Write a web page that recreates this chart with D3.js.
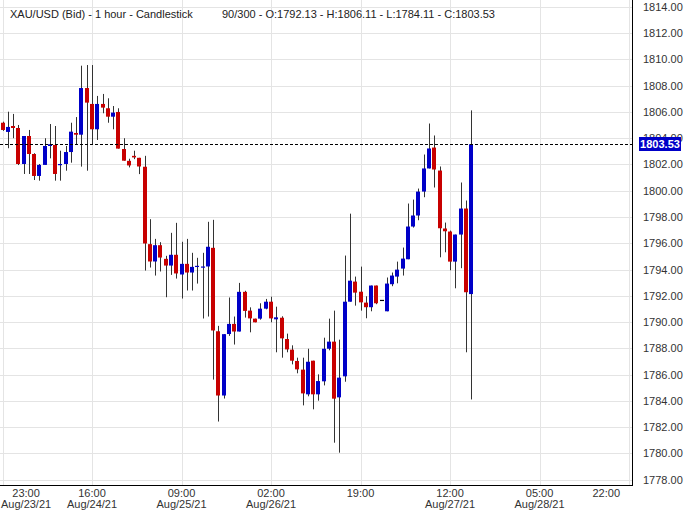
<!DOCTYPE html>
<html>
<head>
<meta charset="utf-8">
<script src="https://cdn.jsdelivr.net/npm/d3@7"></script>
<style>
  html, body { margin: 0; padding: 0; background: #ffffff; }
  svg { display: block; }
  text { font-family: "Liberation Sans", Arial, sans-serif; }
</style>
</head>
<body>
<svg id="chart" width="690" height="510"></svg>
<script>
// ---------- data ----------
const chartTitle = "XAU/USD (Bid) - 1 hour - Candlestick";
const chartInfo = "90/300 - O:1792.13 - H:1806.11 - L:1784.11 - C:1803.53";
const firstCandleTime = "2021-08-23T23:00:00Z"; // hourly candles
const lastPrice = 1803.53;

const opens = [
  1805.17,1804.47,1804.92,1804.77,1802.03,1804.16,1802.79,1801.12,1801.96,1803.40,
  1803.48,1801.96,1802.03,1802.94,1804.39,1804.26,1807.81,1806.60,1804.67,1806.60,
  1806.27,1805.63,1805.99,1803.17,1802.27,1802.65,1802.50,1801.82,1795.93,1794.61,
  1795.85,1794.81,1794.30,1795.12,1793.62,1794.43,1793.77,1794.23,1794.15,1794.23,
  1795.65,1789.30,1784.41,1789.09,1789.86,1789.28,1792.30,1790.87,1790.26,1790.26,
  1791.02,1791.55,1790.21,1790.33,1788.71,1787.90,1787.04,1786.38,1784.50,1787.06,
  1784.50,1785.49,1787.97,1788.51,1784.27,1785.87,1791.55,1793.08,1792.31,1791.48,
  1791.13,1792.78,1791.69,1790.82,1792.88,1793.46,1794.07,1794.78,1797.27,1798.11,
  1799.93,1801.69,1803.28,1801.53,1797.12,1796.89,1794.60,1796.66,1798.64,1792.13
];
const highs = [
  1805.25,1806.01,1805.84,1805.00,1804.16,1804.62,1802.85,1802.03,1803.99,1805.07,
  1804.92,1803.04,1803.40,1805.17,1805.60,1809.51,1809.56,1809.56,1807.21,1807.36,
  1807.03,1806.44,1806.27,1803.99,1802.43,1803.04,1802.50,1802.65,1797.83,1796.33,
  1796.08,1795.04,1796.79,1797.55,1796.11,1796.33,1795.27,1794.89,1795.27,1797.63,
  1797.78,1789.71,1789.08,1791.87,1790.42,1792.98,1792.38,1791.12,1790.26,1791.43,
  1791.76,1791.93,1791.17,1790.44,1789.12,1788.23,1787.29,1787.29,1787.97,1787.06,
  1786.02,1788.81,1790.26,1790.87,1788.66,1795.06,1798.25,1793.46,1794.22,1791.96,
  1792.78,1792.78,1791.69,1793.39,1793.77,1794.60,1795.67,1799.02,1799.32,1800.16,
  1802.75,1805.11,1804.20,1801.84,1797.57,1796.96,1796.66,1800.62,1799.25,1806.11
];
const lows = [
  1804.55,1803.23,1803.99,1801.95,1801.27,1801.27,1800.81,1800.76,1801.96,1802.46,
  1800.76,1800.76,1801.52,1802.13,1803.48,1801.83,1801.52,1803.48,1803.86,1805.89,
  1805.17,1804.67,1803.20,1802.28,1801.77,1802.40,1801.26,1793.92,1794.15,1793.54,
  1793.85,1791.89,1793.59,1793.31,1791.79,1792.40,1792.40,1792.93,1790.27,1790.42,
  1785.62,1782.43,1784.18,1788.95,1788.29,1789.28,1790.34,1789.22,1789.98,1790.18,
  1790.97,1789.98,1787.70,1787.29,1787.70,1786.78,1786.10,1783.66,1784.35,1783.36,
  1784.02,1785.18,1787.85,1780.82,1780.06,1785.46,1791.55,1791.25,1790.87,1790.29,
  1790.82,1791.36,1791.69,1790.82,1792.73,1792.95,1793.54,1794.78,1797.19,1797.75,
  1799.50,1801.69,1800.24,1794.93,1795.31,1793.94,1792.57,1794.10,1787.70,1784.11
];
const closes = [
  1804.62,1804.85,1804.77,1802.03,1804.16,1802.79,1801.12,1801.96,1803.40,1803.53,
  1801.27,1802.03,1802.94,1804.49,1804.26,1807.81,1806.70,1804.67,1806.60,1806.32,
  1805.63,1805.94,1803.20,1802.28,1801.92,1802.53,1801.84,1795.98,1794.61,1795.85,
  1794.91,1794.30,1795.12,1793.70,1794.43,1793.77,1794.20,1794.28,1794.23,1795.73,
  1789.36,1784.41,1789.08,1789.86,1789.28,1792.30,1790.85,1790.28,1789.98,1791.02,
  1791.55,1790.28,1790.36,1788.76,1787.92,1787.06,1786.40,1784.57,1786.98,1784.50,
  1785.51,1787.97,1788.51,1784.17,1785.77,1791.55,1793.15,1792.24,1791.50,1791.13,
  1792.78,1791.43,1791.69,1792.93,1793.54,1793.99,1794.83,1797.27,1798.11,1799.93,
  1801.69,1803.21,1801.61,1797.14,1796.91,1794.60,1796.66,1798.64,1792.27,1803.53
];

const yTickValues = [1778,1780,1782,1784,1786,1788,1790,1792,1794,1796,1798,1800,1802,1804,1806,1808,1810,1812,1814];
const xTickTimes = ["2021-08-23T23:00:00Z","2021-08-24T16:00:00Z","2021-08-25T09:00:00Z","2021-08-26T02:00:00Z",
                    "2021-08-26T19:00:00Z","2021-08-27T12:00:00Z","2021-08-28T05:00:00Z","2021-08-28T22:00:00Z"];
const xTickDates = ["Aug/23/21","Aug/24/21","Aug/25/21","Aug/26/21","","Aug/27/21","Aug/28/21",""];

// ---------- layout ----------
const W = 690, H = 510;
const plotRight = 632, plotBottom = 485;
const upColor = "#0000c8", downColor = "#c80000", wickColor = "#333333";
const gridColor = "#e4e4e4";

const svg = d3.select("#chart");
svg.append("rect").attr("width", W).attr("height", H).attr("fill", "#fff");

const t0 = new Date(firstCandleTime).getTime();
const candles = opens.map((o, i) => ({
  t: new Date(t0 + i * 3600e3), o, h: highs[i], l: lows[i], c: closes[i]
}));

const x = d3.scaleUtc()
  .domain([new Date(Date.UTC(2021,7,23,22,31,30)), new Date(Date.UTC(2021,7,28,22,33,40))])
  .range([0, plotRight]);
const y = d3.scaleLinear().domain([1777.60, 1814.51]).range([plotBottom, 0]);

// grid
const grid = svg.append("g");
grid.selectAll("line.h").data(yTickValues).join("line")
  .attr("x1", 0).attr("x2", plotRight)
  .attr("y1", d => Math.round(y(d)) + 0.5).attr("y2", d => Math.round(y(d)) + 0.5)
  .attr("stroke", gridColor).attr("stroke-width", 1);
const xTicks = xTickTimes.map(s => new Date(s));
grid.selectAll("line.v").data(xTicks).join("line")
  .attr("y1", 0).attr("y2", plotBottom)
  .attr("x1", d => Math.round(x(d)) + 0.5).attr("x2", d => Math.round(x(d)) + 0.5)
  .attr("stroke", gridColor).attr("stroke-width", 1);

// title
svg.append("text").attr("x", 10).attr("y", 18).attr("font-size", 11).attr("fill", "#222").text(chartTitle);
svg.append("text").attr("x", 222).attr("y", 18).attr("font-size", 11).attr("fill", "#222").text(chartInfo);

// candles
const cg = svg.append("g");
cg.selectAll("line.wick").data(candles).join("line")
  .attr("x1", d => Math.round(x(d.t)) + 0.5).attr("x2", d => Math.round(x(d.t)) + 0.5)
  .attr("y1", d => y(d.h)).attr("y2", d => y(d.l))
  .attr("stroke", wickColor).attr("stroke-width", 1);
cg.selectAll("rect.body").data(candles).join("rect")
  .attr("x", d => Math.round(x(d.t)) - 2)
  .attr("width", 4)
  .attr("y", d => y(Math.max(d.o, d.c)))
  .attr("height", d => Math.max(1.2, Math.abs(y(d.o) - y(d.c))))
  .attr("fill", d => d.c > d.o ? upColor : (d.c < d.o ? downColor : "#000"));

// last price dashed line
svg.append("line")
  .attr("x1", 0).attr("x2", plotRight)
  .attr("y1", Math.round(y(lastPrice)) + 0.5).attr("y2", Math.round(y(lastPrice)) + 0.5)
  .attr("stroke", "#000").attr("stroke-width", 1).attr("stroke-dasharray", "3,2");

// right axis
const yAxis = d3.axisRight(y).tickValues(yTickValues).tickSize(0).tickPadding(0)
  .tickFormat(d3.format(".2f"));
const ya = svg.append("g").attr("transform", `translate(${plotRight + 11},0)`).call(yAxis);
ya.select(".domain").remove();
ya.selectAll("text").attr("font-size", 11).attr("fill", "#333").attr("font-family", "Liberation Sans, Arial, sans-serif");

// axis lines
svg.append("line").attr("x1", plotRight + 0.5).attr("x2", plotRight + 0.5).attr("y1", 0).attr("y2", plotBottom + 1)
  .attr("stroke", "#000").attr("stroke-width", 1);
svg.append("line").attr("x1", 0).attr("x2", plotRight + 1).attr("y1", plotBottom + 0.5).attr("y2", plotBottom + 0.5)
  .attr("stroke", "#000").attr("stroke-width", 1);

// current price box
const py = y(lastPrice);
svg.append("rect").attr("x", 639).attr("y", Math.round(py) - 7).attr("width", 42).attr("height", 14).attr("fill", upColor);
svg.append("text").attr("x", 660).attr("y", Math.round(py) + 4).attr("text-anchor", "middle")
  .attr("font-size", 11).attr("font-weight", "bold").attr("fill", "#fff").text(d3.format(".2f")(lastPrice));

// bottom axis labels
const fmtTime = d3.utcFormat("%H:%M");
const xg = svg.append("g");
xTicks.forEach((t, i) => {
  const g = xg.append("g");
  const t1 = g.append("text").attr("y", 497).attr("text-anchor", "middle").attr("font-size", 11).attr("fill", "#333").text(fmtTime(t));
  let w = t1.node().getComputedTextLength();
  let t2 = null;
  if (xTickDates[i]) {
    t2 = g.append("text").attr("y", 508).attr("text-anchor", "middle").attr("font-size", 11).attr("fill", "#333").text(xTickDates[i]);
    w = Math.max(w, t2.node().getComputedTextLength());
  }
  let cx = x(t);
  if (cx - w / 2 < 1) cx = 1 + w / 2;
  if (cx + w / 2 > 620) cx = 620 - w / 2;
  t1.attr("x", cx);
  if (t2) t2.attr("x", cx);
});
</script>
</body>
</html>
